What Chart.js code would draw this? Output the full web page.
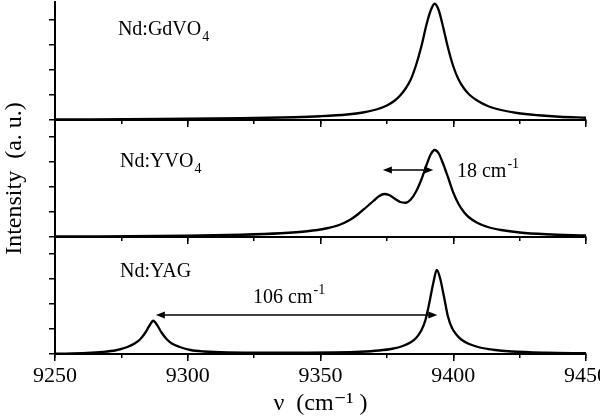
<!DOCTYPE html>
<html>
<head>
<meta charset="utf-8">
<script src="https://cdn.jsdelivr.net/npm/chart.js@4.4.1/dist/chart.umd.min.js"></script>
<style>
  html, body { margin: 0; padding: 0; background: #fff; }
  #wrap { position: relative; width: 600px; height: 420px; overflow: hidden; }
  #wrap canvas { position: absolute; left: 0; }
</style>
</head>
<body>
<div id="wrap">
  <canvas id="gdvo4" width="600" height="130" style="top:0px"></canvas>
  <canvas id="yag" width="600" height="183" style="top:237px"></canvas>
  <!-- middle panel spans the full height so the y title is not clipped -->
  <canvas id="yvo4" width="600" height="420" style="top:0px"></canvas>
</div>
<script>
// Labelled x ticks (minor ticks every 25 cm-1)
const xTickLabels = [9250, 9300, 9350, 9400, 9450];

// Nd:GdVO4 spectrum
const gdvo4Wavenumber = [9250, 9290, 9320, 9340, 9350, 9360, 9366, 9371, 9375, 9378, 9380, 9382, 9384, 9386,
  9388, 9390, 9391.5, 9393, 9394.5, 9396, 9398, 9400, 9402, 9404, 9406, 9409, 9413, 9418, 9424, 9432, 9440, 9450];
const gdvo4Intensity = [0.02, 0.04, 0.07, 0.11, 0.15, 0.22, 0.3, 0.42, 0.58, 0.78, 0.98, 1.25, 1.62, 2.2,
  2.95, 3.85, 4.38, 4.65, 4.4, 3.8, 2.9, 2.15, 1.62, 1.27, 1.02, 0.78, 0.56, 0.4, 0.28, 0.19, 0.13, 0.09];

// Nd:YVO4 spectrum
const yvo4Wavenumber = [9250, 9300, 9320, 9335, 9345, 9352, 9357, 9361, 9364, 9367, 9370, 9372, 9374, 9376,
  9378, 9380, 9382, 9384, 9386, 9388, 9390, 9391.5, 9393, 9394.5, 9396, 9398, 9400, 9402, 9404, 9406, 9409,
  9413, 9418, 9425, 9435, 9450];
const yvo4Intensity = [0.02, 0.05, 0.09, 0.15, 0.23, 0.34, 0.48, 0.68, 0.9, 1.17, 1.45, 1.63, 1.72, 1.67,
  1.53, 1.4, 1.37, 1.5, 1.82, 2.3, 2.9, 3.3, 3.48, 3.35, 2.98, 2.4, 1.78, 1.32, 1.0, 0.78, 0.57,
  0.4, 0.28, 0.18, 0.11, 0.06];

// Nd:YAG spectrum
const yagWavenumber = [9250, 9262, 9268, 9273, 9277, 9280, 9282, 9284, 9285.5, 9287, 9288.5, 9290, 9292, 9294,
  9297, 9301, 9306, 9315, 9330, 9345, 9355, 9365, 9372, 9377, 9381, 9384, 9386, 9388, 9389.5, 9391, 9392.5,
  9393.8, 9395, 9396.5, 9398, 9399.5, 9401, 9403, 9406, 9410, 9415, 9422, 9435, 9450];
const yagIntensity = [0.01, 0.04, 0.08, 0.15, 0.27, 0.42, 0.58, 0.85, 1.12, 1.33, 1.15, 0.88, 0.6, 0.42,
  0.28, 0.16, 0.1, 0.06, 0.05, 0.05, 0.06, 0.09, 0.14, 0.21, 0.32, 0.47, 0.64, 0.95, 1.35, 2.05, 2.85,
  3.36, 3.05, 2.3, 1.5, 1.05, 0.8, 0.58, 0.4, 0.26, 0.17, 0.1, 0.05, 0.03];

const serif = "'Liberation Serif', 'Times New Roman', 'DejaVu Serif', serif";

/**
 * Draws the sample names and the splitting arrows in data coordinates
 */
const notesPlugin = {
  id: 'notes',
  afterDatasetsDraw(chart, args, opts) {
    const { ctx } = chart;
    const x = chart.scales.x;
    const y = chart.scales.y;
    ctx.save();
    ctx.fillStyle = '#000';
    ctx.strokeStyle = '#000';

    const head = (px, py, dir) => {
      ctx.beginPath();
      ctx.moveTo(px, py);
      ctx.lineTo(px - dir * 9, py - 3.5);
      ctx.lineTo(px - dir * 9, py + 3.5);
      ctx.closePath();
      ctx.fill();
    };

    (opts.arrows || []).forEach(a => {
      const x1 = x.getPixelForValue(a.from);
      const x2 = x.getPixelForValue(a.to);
      const py = y.getPixelForValue(a.at);
      ctx.lineWidth = 1.5;
      ctx.beginPath();
      ctx.moveTo(x1 + 5, py);
      ctx.lineTo(x2 - 5, py);
      ctx.stroke();
      head(x1, py, -1);
      head(x2, py, 1);
    });

    (opts.labels || []).forEach(l => {
      let px = x.getPixelForValue(l.x);
      const py = y.getPixelForValue(l.y);
      ctx.textAlign = 'left';
      ctx.textBaseline = 'alphabetic';
      ctx.font = `20px ${serif}`;
      ctx.fillText(l.text, px, py);
      px += ctx.measureText(l.text).width;
      ctx.font = `14px ${serif}`;
      if (l.sub) ctx.fillText(l.sub, px + 1, py + 6);
      if (l.sup) ctx.fillText(l.sup, px + 1, py - 9);
    });
    ctx.restore();
  }
};

function toPoints(xs, ys) {
  return xs.map((v, i) => ({ x: v, y: ys[i] }));
}

function panelOptions(cfg) {
  return {
    responsive: false,
    animation: false,
    layout: { padding: { top: cfg.padTop, right: 14, left: 0, bottom: cfg.padBottom || 0 } },
    plugins: {
      legend: { display: false },
      tooltip: { enabled: false },
      notes: cfg.notes
    },
    scales: {
      // short minor ticks every 25, sits on the chart area edge with no height of its own
      xMinor: {
        type: 'linear',
        position: 'bottom',
        weight: -1,
        min: 9250,
        max: 9450,
        border: { display: false },
        grid: { drawOnChartArea: false, drawTicks: true, tickLength: 4, color: '#000', lineWidth: 1.5 },
        ticks: { display: false, stepSize: 25 },
        afterFit: s => {
          s.height = 0;
          s.paddingLeft = 0;
          s.paddingRight = 0;
        }
      },
      x: {
        type: 'linear',
        min: 9250,
        max: 9450,
        border: { color: '#000', width: 2 },
        grid: { drawOnChartArea: false, drawTicks: true, tickLength: 7, color: '#000', lineWidth: 1.5 },
        ticks: {
          display: cfg.bottom,
          stepSize: 50,
          autoSkip: false,
          maxRotation: 0,
          padding: 2,
          color: '#000',
          font: { family: serif, size: 22 },
          callback: v => (xTickLabels.includes(v) ? String(v) : '')
        },
        title: {
          display: cfg.bottom,
          text: 'ν  (cm⁻¹ )',
          color: '#000',
          font: { family: serif, size: 24 },
          padding: { top: 0, bottom: 2 }
        },
        afterFit: s => {
          s.height = cfg.xHeight;
          s.paddingLeft = 0;
          s.paddingRight = 0;
        }
      },
      y: {
        min: 0,
        max: cfg.yMax,
        border: { color: '#000', width: 2 },
        grid: { drawOnChartArea: false, drawTicks: true, tickLength: 6, color: '#000', lineWidth: 1.5 },
        ticks: { display: false, stepSize: 1 },
        title: {
          display: !!cfg.yTitle,
          text: cfg.yTitle || '',
          color: '#000',
          font: { family: serif, size: 24 },
          padding: { top: 0, bottom: 0 }
        },
        afterBuildTicks: s => {
          s.ticks = s.ticks.filter(t => Number.isInteger(t.value));
        },
        afterFit: s => {
          s.width = 55;
          s.paddingTop = 0;
          s.paddingBottom = 0;
        }
      }
    }
  };
}

function spectrumDataset(xs, ys) {
  return {
    data: toPoints(xs, ys),
    borderColor: '#000',
    borderWidth: 2.3,
    pointRadius: 0,
    fill: false,
    cubicInterpolationMode: 'monotone'
  };
}

new Chart(document.getElementById('gdvo4'), {
  type: 'line',
  data: { datasets: [spectrumDataset(gdvo4Wavenumber, gdvo4Intensity)] },
  options: panelOptions({
    padTop: 2, xHeight: 10, yMax: 4.72, bottom: false,
    notes: { labels: [{ text: 'Nd:GdVO', sub: '4', x: 9273.7, y: 3.4 }] }
  }),
  plugins: [notesPlugin]
});

new Chart(document.getElementById('yvo4'), {
  type: 'line',
  data: { datasets: [spectrumDataset(yvo4Wavenumber, yvo4Intensity)] },
  options: panelOptions({
    padTop: 120, padBottom: 173, xHeight: 10, yMax: 4.68, bottom: false,
    yTitle: 'Intensity  (a. u.)',
    notes: {
      labels: [
        { text: 'Nd:YVO', sub: '4', x: 9274.5, y: 2.8 },
        { text: '18 cm', sup: '-1', x: 9401.4, y: 2.4 }
      ],
      arrows: [{ from: 9373.5, to: 9392.5, at: 2.68 }]
    }
  }),
  plugins: [notesPlugin]
});

new Chart(document.getElementById('yag'), {
  type: 'line',
  data: { datasets: [spectrumDataset(yagWavenumber, yagIntensity)] },
  options: panelOptions({
    padTop: 0, xHeight: 66, yMax: 4.68, bottom: true,
    notes: {
      labels: [
        { text: 'Nd:YAG', x: 9274.5, y: 3.08 },
        { text: '106 cm', sup: '-1', x: 9324.6, y: 2.04 }
      ],
      arrows: [{ from: 9288, to: 9394, at: 1.56 }]
    }
  }),
  plugins: [notesPlugin]
});
</script>
</body>
</html>
